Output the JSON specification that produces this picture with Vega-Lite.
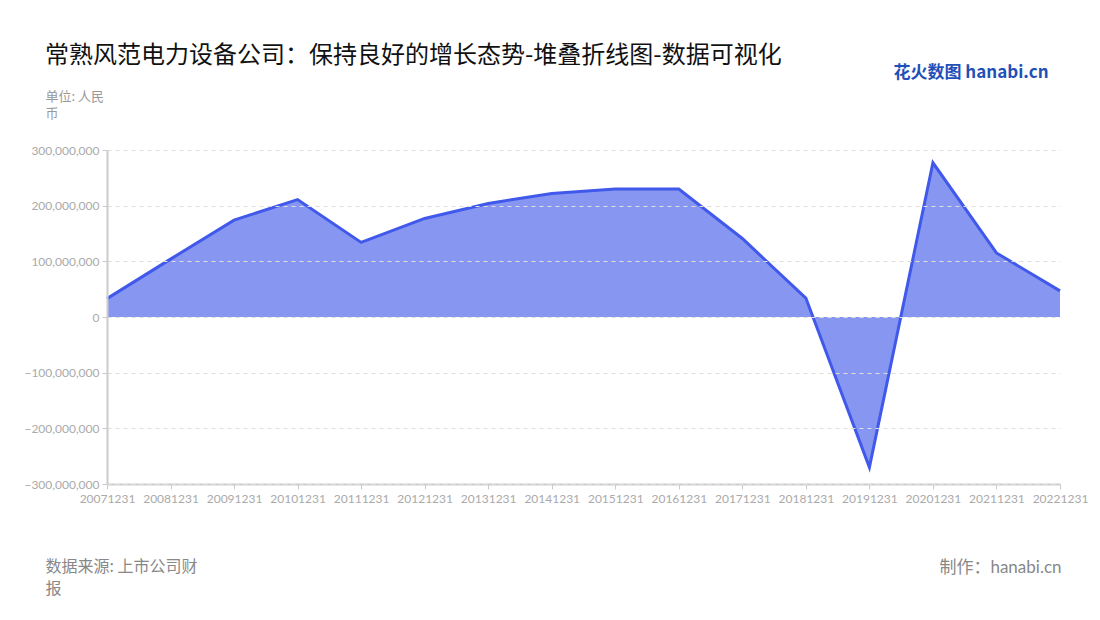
{
  "$schema": "https://vega.github.io/schema/vega-lite/v6.json",
  "width": 953,
  "height": 334,
  "autosize": {"type": "none"},
  "padding": {"left": 107, "top": 150, "right": 40, "bottom": 136},
  "background": "white",
  "title": {
    "text": "常熟风范电力设备公司：保持良好的增长态势-堆叠折线图-数据可视化",
    "anchor": "start",
    "frame": "group",
    "dx": -62,
    "dy": 15,
    "offset": 10,
    "fontSize": 24,
    "font": "Noto Sans CJK SC",
    "fontWeight": "normal",
    "color": "#111111"
  },
  "config": {"view": {"stroke": null}},
  "data": {
    "values": [
      {"date": "20071231", "value": 33000000},
      {"date": "20081231", "value": 104000000},
      {"date": "20091231", "value": 174000000},
      {"date": "20101231", "value": 211000000},
      {"date": "20111231", "value": 134000000},
      {"date": "20121231", "value": 177000000},
      {"date": "20131231", "value": 204000000},
      {"date": "20141231", "value": 222000000},
      {"date": "20151231", "value": 230000000},
      {"date": "20161231", "value": 230000000},
      {"date": "20171231", "value": 141000000},
      {"date": "20181231", "value": 34000000},
      {"date": "20191231", "value": -270000000},
      {"date": "20201231", "value": 277000000},
      {"date": "20211231", "value": 115000000},
      {"date": "20221231", "value": 47000000}
    ]
  },
  "layer": [
    {
      "mark": {"type": "area", "color": "#8797F1", "opacity": 1},
      "encoding": {
        "x": {
          "field": "date",
          "type": "ordinal",
          "scale": {"type": "point", "padding": 0},
          "axis": {
            "orient": "bottom",
            "labelAngle": 0,
            "labelColor": "#aaaaaa",
            "labelFontSize": 12,
            "labelFont": "Lato",
            "labelOverlap": false,
            "labelPadding": 4,
            "tickColor": "#cccccc",
            "tickSize": 5,
            "domainColor": "#cccccc",
            "domainWidth": 2,
            "grid": false,
            "title": ["数据来源: 上市公司财", "报"],
            "titleX": -62,
            "titleY": 82,
            "titleAlign": "left",
            "titleBaseline": "middle",
            "titleAnchor": null,
            "titleAngle": 0,
            "titleFont": "Noto Sans CJK SC",
            "titleFontSize": 16,
            "titleFontWeight": "normal",
            "titleLineHeight": 22,
            "titleColor": "#888888"
          }
        },
        "y": {
          "field": "value",
          "type": "quantitative",
          "scale": {"domain": [-300000000, 300000000], "nice": false},
          "axis": {
            "orient": "left",
            "zindex": 1,
            "values": [-300000000, -200000000, -100000000, 0, 100000000, 200000000, 300000000],
            "format": ",d",
            "labelColor": "#aaaaaa",
            "labelFontSize": 12,
            "labelFont": "Lato",
            "labelPadding": 3,
            "tickColor": "#cccccc",
            "tickSize": 5,
            "domainColor": "#cccccc",
            "domainWidth": 2,
            "grid": true,
            "gridDash": [4, 4],
            "gridColor": "#dddddd",
            "title": ["单位: 人民", "币"],
            "titleX": -62,
            "titleY": -54,
            "titleAlign": "left",
            "titleBaseline": "middle",
            "titleAngle": 0,
            "titleFont": "Noto Sans CJK SC",
            "titleFontSize": 13,
            "titleFontWeight": "normal",
            "titleLineHeight": 17,
            "titleColor": "#999999"
          }
        }
      }
    },
    {
      "mark": {"type": "line", "color": "#4059EA", "strokeWidth": 3},
      "encoding": {
        "x": {
          "field": "date",
          "type": "ordinal",
          "scale": {"type": "point", "padding": 0},
          "axis": {
            "orient": "top",
            "labels": false,
            "ticks": false,
            "domain": false,
            "grid": false,
            "title": "花火数图 hanabi.cn",
            "titleX": 786,
            "titleY": -78,
            "titleAlign": "left",
            "titleBaseline": "middle",
            "titleAngle": 0,
            "titleFont": "Noto Sans CJK SC",
            "titleFontSize": 17,
            "titleFontWeight": "bold",
            "titleColor": "#1f4fb8"
          }
        },
        "y": {
          "field": "value",
          "type": "quantitative",
          "axis": {
            "orient": "right",
            "labels": false,
            "ticks": false,
            "domain": false,
            "grid": false,
            "title": "制作：hanabi.cn",
            "titleX": 1,
            "titleY": 417,
            "titleAlign": "right",
            "titleBaseline": "middle",
            "titleAngle": 0,
            "titleFont": "Lato, Noto Sans CJK SC",
            "titleFontSize": 17,
            "titleFontWeight": "normal",
            "titleColor": "#888888"
          }
        }
      }
    }
  ],
  "resolve": {"axis": {"x": "independent", "y": "independent"}}
}
